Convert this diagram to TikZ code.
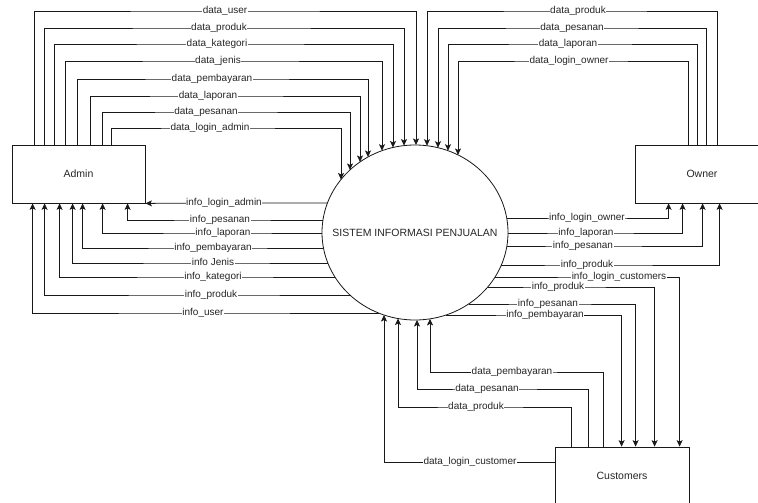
\documentclass[tikz,border=0pt]{standalone}
\usepackage{fontspec}
\setmainfont{Liberation Sans}
\usetikzlibrary{calc,arrows.meta,shapes.geometric}

% flow from a box up/down to the top of the process ellipse
\newcommand\dtop[6]{\draw[flow] (#1) |- (#3,#2) node[lbl](#6){#4} -- (#5,#2) -- ($(sys.center)+({#5-415},{-87.5*sqrt(1-((#5-415)/93)^2)})$);}
% flow from a box up to the bottom of the process ellipse
\newcommand\dbot[6]{\draw[flow] (#1) |- (#3,#2) node[lbl](#6){#4} -- (#5,#2) -- ($(sys.center)+({#5-415},{87.5*sqrt(1-((#5-415)/93)^2)})$);}
% flow from the left side of the ellipse to a box
\newcommand\dleft[5]{\draw[flow] ($(sys.center)+({-93*sqrt(1-((#1-232.5)/87.5)^2)},{#1-232.5})$) -- (#2,#1) node[lbl](#5){#3} -| (#4);}
% flow from the right side of the ellipse to a box
\newcommand\dright[5]{\draw[flow] ($(sys.center)+({93*sqrt(1-((#1-232.5)/87.5)^2)},{#1-232.5})$) -- (#2,#1) node[lbl](#5){#3} -| (#4);}

\begin{document}
\begin{tikzpicture}[x=1pt,y=-1pt,
  flow/.style={line width=0.8pt, draw=black!90, -{Stealth[length=6.5pt,width=6pt,inset=1.5pt]}},
  lbl/.style={fill=white, inner sep=0.6pt, font=\fontsize{10}{12}\selectfont, text=black!85, text height=7.2pt, text depth=2.2pt},
  entity/.style={draw=black!90, line width=0.8pt, minimum width=134pt, minimum height=58pt, inner sep=0pt, font=\fontsize{10.5}{12}\selectfont, text=black!85},
  process/.style={draw=black!90, ellipse, line width=0.8pt, minimum width=186pt, minimum height=175pt, inner sep=0pt, font=\fontsize{10.5}{12}\selectfont, text=black!85}
]
\useasboundingbox (0,0) rectangle (758,503);
\fill[white] (0,0) rectangle (758,503);

\node[entity, minimum width=133pt] (admin) at (78.5,174) {Admin};
\node[entity] (owner) at (702,174) {Owner};
\node[entity] (cust) at (622,476) {Customers};
\node[process] (sys) at (415,232.5) {\makebox[0pt]{SISTEM INFORMASI PENJUALAN}};

% Admin -> system
\dtop{[xshift=23pt]admin.north west}{11}{225}{data\_user}{416}{l1}
\dtop{[xshift=33pt]admin.north west}{28}{219}{data\_produk}{404}{l2}
\dtop{[xshift=43pt]admin.north west}{44}{217}{data\_kategori}{393}{l3}
\dtop{[xshift=54pt]admin.north west}{61}{218}{data\_jenis}{382}{l4}
\dtop{[xshift=66pt]admin.north west}{79}{212}{data\_pembayaran}{368}{l5}
\dtop{[xshift=79pt]admin.north west}{96}{208}{data\_laporan}{360}{l6}
\dtop{[xshift=91pt]admin.north west}{112}{206}{data\_pesanan}{350}{l7}
\dtop{[xshift=100pt]admin.north west}{128}{210}{data\_login\_admin}{341}{l8}

% system -> Admin
\draw[flow] ($(sys.center)+({-93*sqrt(1-((203-232.5)/87.5)^2)},{203-232.5})$) -- (224,203) node[lbl](l9){info\_login\_admin} -- (admin.south east);
\dleft{220}{220}{info\_pesanan}{[xshift=116pt]admin.south west}{l10}
\dleft{233}{223}{info\_laporan}{[xshift=91pt]admin.south west}{l11}
\dleft{248}{213}{info\_pembayaran}{[xshift=71pt]admin.south west}{l12}
\dleft{263}{213}{info Jenis}{[xshift=61pt]admin.south west}{l13}
\dleft{277}{213}{info\_kategori}{[xshift=48pt]admin.south west}{l14}
\dleft{295}{211}{info\_produk}{[xshift=33pt]admin.south west}{l15}
\dleft{313}{203}{info\_user}{[xshift=21pt]admin.south west}{l16}

% Owner -> system
\dtop{[xshift=83pt]owner.north west}{11}{578}{data\_produk}{427}{l17}
\dtop{[xshift=72pt]owner.north west}{28}{572}{data\_pesanan}{438}{l18}
\dtop{[xshift=63pt]owner.north west}{44}{568}{data\_laporan}{448}{l19}
\dtop{[xshift=54pt]owner.north west}{61}{569}{data\_login\_owner}{458}{l20}

% system -> Owner
\dright{218}{587}{info\_login\_owner}{[xshift=34pt]owner.south west}{l21}
\dright{233}{586}{info\_laporan}{[xshift=48pt]owner.south west}{l22}
\dright{246}{583}{info\_pesanan}{[xshift=68pt]owner.south west}{l23}
\dright{265}{587}{info\_produk}{[xshift=85pt]owner.south west}{l24}

% system -> Customers
\dright{277}{619}{info\_login\_customers}{[xshift=125pt]cust.north west}{l25}
\dright{287}{558}{info\_produk}{[xshift=100pt]cust.north west}{l26}
\dright{304}{548}{info\_pesanan}{[xshift=81pt]cust.north west}{l27}
\dright{315}{545}{info\_pembayaran}{[xshift=67pt]cust.north west}{l28}

% Customers -> system
\dbot{[xshift=49pt]cust.north west}{372}{512}{data\_pembayaran}{430}{l29}
\dbot{[xshift=34pt]cust.north west}{389}{487}{data\_pesanan}{417}{l30}
\dbot{[xshift=17pt]cust.north west}{407}{476}{data\_produk}{398}{l31}
\draw[flow] ([yshift=14pt]cust.west) -- (470,462) node[lbl](l32){data\_login\_customer} -- (384,462) -- ($(sys.center)+({384-415},{87.5*sqrt(1-((384-415)/93)^2)})$);
\end{tikzpicture}
\end{document}
